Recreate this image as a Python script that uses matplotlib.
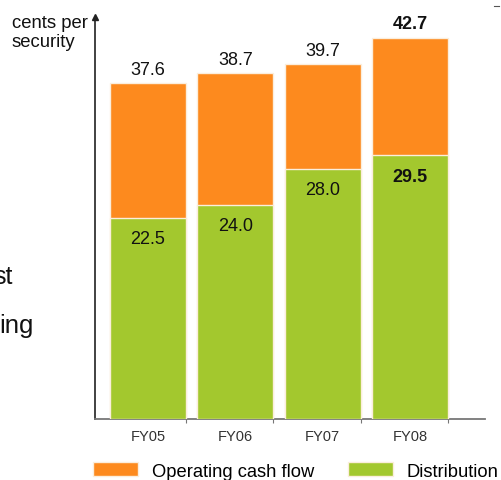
import numpy as np
import matplotlib
matplotlib.use("Agg")
import matplotlib.pyplot as plt
from matplotlib.lines import Line2D

plt.rcParams["font.family"] = ["Liberation Sans", "DejaVu Sans"]

YEARS = ["FY05", "FY06", "FY07", "FY08"]
OPERATING_CASH_FLOW = [37.6, 38.7, 39.7, 42.7]
DISTRIBUTION = [22.5, 24.0, 28.0, 29.5]

ORANGE = "#fd8a1e"
GREEN = "#a3c82e"
EDGE = "#fbeedc"

W, H = 501, 481
fig = plt.figure(figsize=(W / 100, H / 100), dpi=100)
ax = fig.add_axes([95 / W, 61 / H, 390 / W, 402 / H])

x = np.arange(len(YEARS))
bar_w = 0.87
ocf = np.array(OPERATING_CASH_FLOW)
dist = np.array(DISTRIBUTION)

ax.bar(x, ocf, width=bar_w, color=ORANGE, edgecolor=EDGE, linewidth=1.0,
       label="Operating cash flow", zorder=2)
ax.bar(x, dist, width=bar_w, color=GREEN, edgecolor=EDGE, linewidth=1.0,
       label="Distribution", zorder=3)

for i in range(len(YEARS)):
    weight = "bold" if i == len(YEARS) - 1 else "normal"
    ax.annotate(f"{ocf[i]:.1f}", (x[i], ocf[i]), xytext=(0, 4),
                textcoords="offset points", ha="center", va="bottom",
                fontsize=13, fontweight=weight, color="#111111")
    ax.annotate(f"{dist[i]:.1f}", (x[i], dist[i]), xytext=(0, -9),
                textcoords="offset points", ha="center", va="top",
                fontsize=13, fontweight=weight, color="#111111", zorder=4)

ax.set_xlim(-0.607, 3.86)
ax.set_ylim(0, 45)

for side in ("top", "right"):
    ax.spines[side].set_visible(False)
ax.spines["left"].set_color("#333333")
ax.spines["left"].set_linewidth(1.3)
ax.spines["bottom"].set_color("#777777")
ax.spines["bottom"].set_linewidth(1.3)
ax.plot(-0.607, 45, marker="^", color="#222222", markersize=4,
        clip_on=False, zorder=5)

ax.set_yticks([])
ax.set_xticks(x + bar_w / 2)
ax.set_xticklabels([])
ax.tick_params(axis="x", direction="out", length=3, color="#777777")
for i, lab in enumerate(YEARS):
    ax.text(x[i], -1.9, lab, ha="center", va="center", fontsize=10.5,
            color="#333333")

fig.text(12 / W, 1 - 33 / H, "cents per\nsecurity", ha="left", va="center",
         fontsize=13.3, linespacing=1.15, color="#111111")

fig.text(13 / W, 1 - 284 / H, "st", ha="right", va="baseline", fontsize=18,
         color="#111111")
fig.text(34 / W, 1 - 333 / H, "ing", ha="right", va="baseline", fontsize=18.5,
         color="#111111")
fig.add_artist(Line2D([494 / W, 499 / W], [1 - 7 / H, 1 - 7 / H],
                      color="#555555", linewidth=0.8))

fig.legend(loc="center left", bbox_to_anchor=(93 / W, 1 - 472 / H), ncol=2,
           frameon=False, fontsize=13.2, handlelength=2.45, handleheight=0.78,
           handletextpad=0.75, columnspacing=1.85, borderaxespad=0,
           borderpad=0)

fig.savefig("out.png", dpi=100)
